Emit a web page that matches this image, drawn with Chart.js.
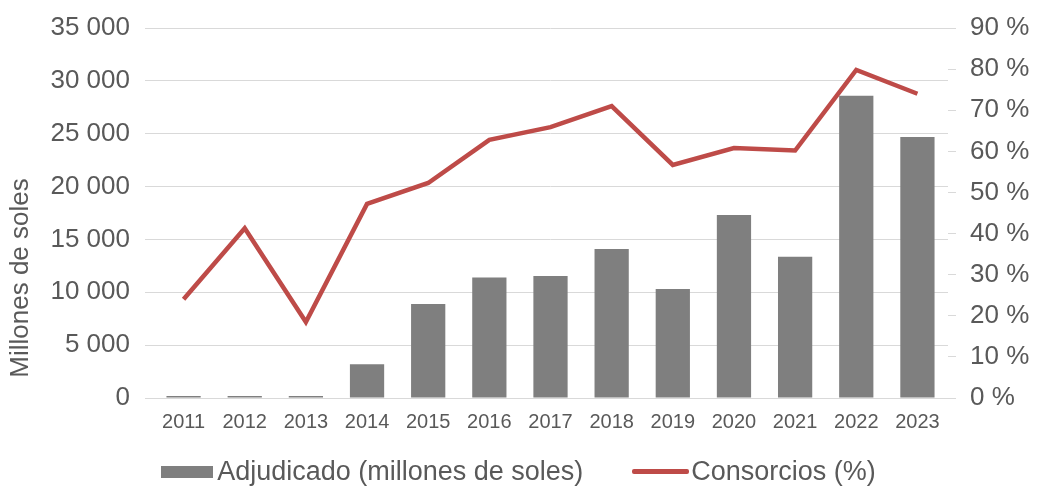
<!DOCTYPE html>
<html>
<head>
<meta charset="utf-8">
<script src="https://cdn.jsdelivr.net/npm/chart.js@4/dist/chart.umd.min.js"></script>
<style>
  body { margin: 0; background: #fff; }
  #wrap { position: relative; width: 1037px; height: 489px; }
  #legend {
    position: absolute; left: 0; top: 456px; width: 1037px;
    display: flex; justify-content: center; align-items: center;
    font-family: "Liberation Sans", Arial, sans-serif; font-size: 27px; color: #595959;
  }
  .item { display: flex; align-items: center; }
  .item + .item { margin-left: 49px; }
  .box { width: 52px; height: 12px; background: #7f7f7f; margin-right: 4px; }
  .ln { width: 57px; height: 5px; background: #be4b48; margin-right: 2px; border-radius: 2px; }
</style>
</head>
<body>
<div id="wrap">
  <canvas id="myComboChart" width="1037" height="489"></canvas>
  <div id="legend">
    <div class="item"><span class="box"></span>Adjudicado (millones de soles)</div>
    <div class="item"><span class="ln"></span>Consorcios (%)</div>
  </div>
</div>
<script>
// data
const years = ["2011", "2012", "2013", "2014", "2015", "2016", "2017", "2018", "2019", "2020", "2021", "2022", "2023"];
const adjudicado = [200, 200, 200, 3200, 8900, 11400, 11550, 14100, 10300, 17300, 13350, 28600, 24700];
const consorcios = [24, 41.3, 18.5, 47.2, 52.3, 62.8, 65.9, 71, 56.7, 60.8, 60.2, 79.8, 74];

const grey = "#595959";
const font = "'Liberation Sans', Arial, sans-serif";

// y axis title drawn by hand so it sits lower than the centre, like the original
const yTitle = {
  id: "yTitle",
  afterDraw(chart) {
    const c = chart.ctx;
    c.save();
    c.translate(21, 278);
    c.rotate(-Math.PI / 2);
    c.font = "26px " + font;
    c.fillStyle = grey;
    c.textAlign = "center";
    c.textBaseline = "middle";
    c.fillText("Millones de soles", 0, 0);
    c.restore();
  },
};

function spaced(v) {
  return String(v).replace(/\B(?=(\d{3})+(?!\d))/g, " ");
}

const ctx = document.getElementById("myComboChart").getContext("2d");
const myComboChart = new Chart(ctx, {
  type: "bar",
  data: {
    labels: years,
    datasets: [
      {
        type: "line",
        label: "Consorcios (%)",
        data: consorcios,
        yAxisID: "y2",
        borderColor: "#be4b48",
        borderWidth: 4.5,
        pointRadius: 0,
        tension: 0,
        order: 0,
      },
      {
        label: "Adjudicado (millones de soles)",
        data: adjudicado,
        yAxisID: "y",
        backgroundColor: "#7f7f7f",
        barPercentage: 0.56,
        categoryPercentage: 1,
        order: 1,
      },
    ],
  },
  options: {
    responsive: false,
    animation: false,
    layout: { padding: { top: 6, left: 40, right: 7, bottom: 43 } },
    plugins: {
      legend: { display: false },
      tooltip: { enabled: false },
    },
    scales: {
      x: {
        grid: { display: false, drawTicks: false },
        border: { color: "#d9d9d9" },
        ticks: { color: grey, font: { family: font, size: 20 }, padding: 12, maxRotation: 0 },
      },
      y: {
        position: "left",
        min: 0,
        max: 35000,
        ticks: { stepSize: 5000, color: grey, font: { family: font, size: 26, lineHeight: 1 }, padding: 15, callback: (v) => spaced(v) },
        grid: { color: "#d9d9d9", tickLength: 8 },
        border: { display: false },
        afterFit: (s) => { s.width = 113; },
      },
      y2: {
        position: "right",
        min: 0,
        max: 90,
        ticks: { stepSize: 10, color: grey, font: { family: font, size: 26, lineHeight: 1 }, padding: 14, callback: (v) => v + " %" },
        grid: { drawOnChartArea: false, color: "#d9d9d9", tickLength: 8 },
        border: { display: false },
        afterFit: (s) => { s.width = 82; },
      },
    },
  },
  plugins: [yTitle],
});
</script>
</body>
</html>
